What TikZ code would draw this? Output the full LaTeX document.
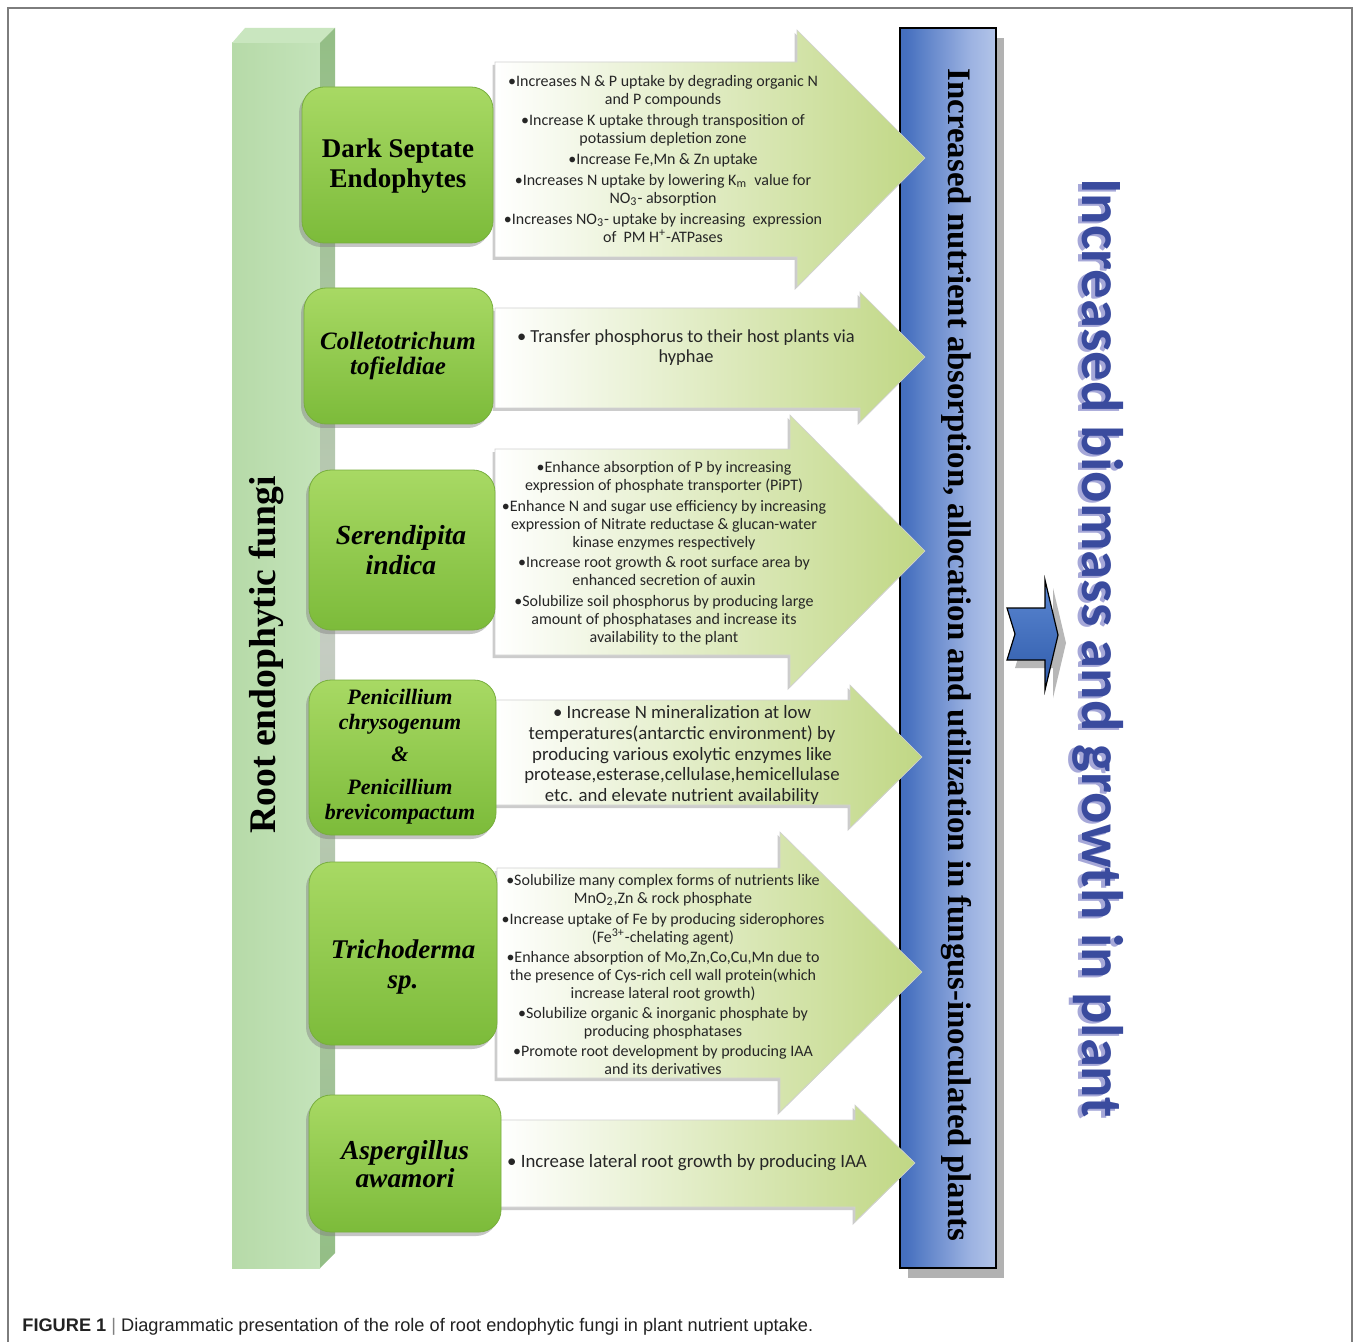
\documentclass[tikz,border=0pt]{standalone}
\usepackage{fontspec}
\setmainfont{Liberation Serif}
\newfontfamily\calib{Carlito}
\newfontfamily\capfont{Liberation Sans}
\usetikzlibrary{shadows}

\definecolor{framegray}{HTML}{7D7D7D}
\definecolor{barfrontL}{HTML}{B6DAA8}
\definecolor{barfrontR}{HTML}{C4E3BA}
\definecolor{bartop}{HTML}{C9E6BF}
\definecolor{barsideA}{HTML}{93BE85}
\definecolor{barsideB}{HTML}{C5CCC2}
\definecolor{boxtop}{HTML}{A8D964}
\definecolor{boxbot}{HTML}{7CBB3A}
\definecolor{boxrim}{HTML}{78AE3E}
\definecolor{arrowgreen}{HTML}{C0D784}
\definecolor{bluedark}{HTML}{3A63B4}
\definecolor{bluedeep}{HTML}{4670BF}
\definecolor{bluemid}{HTML}{9DB3E2}
\definecolor{bluelight}{HTML}{DDE6F4}
\definecolor{chevtop}{HTML}{5B87D2}
\definecolor{chevbot}{HTML}{2F5BAA}
\definecolor{titleblue}{HTML}{3A4B9E}
\definecolor{titleshadow}{HTML}{A6A8D8}
\definecolor{captext}{HTML}{222222}

% horizontal blue fade of the outcome bar
\pgfdeclarehorizontalshading{effectshade}{100bp}{color(0bp)=(bluedark); color(28bp)=(bluedeep); color(62bp)=(bluemid); color(100bp)=(bluelight)}

% block arrow: x0, ytop, ybottom, head base x, head top y, head bottom y, tip x, tip y
\newcommand\benefitarrow[8]{%
  \path[arrowbody] (#1,#2) -- (#4,#2) -- (#4,#5) -- (#7,#8) -- (#4,#6) -- (#4,#3) -- (#1,#3) -- cycle;}

\begin{document}
\begin{tikzpicture}[x=0.5pt,y=-0.5pt,
  fungbox/.style={rectangle, rounded corners=11pt, top color=boxtop, bottom color=boxbot,
    draw=boxrim, line width=0.4pt, inner sep=0pt,
    drop shadow={shadow xshift=-1.5pt, shadow yshift=-2pt, opacity=0.45}},
  fungname/.style={font=\bfseries\itshape, align=center, text=black, inner sep=0pt},
  arrowbody/.style={left color=white, right color=arrowgreen, draw=black!18, line width=0.3pt,
    drop shadow={shadow xshift=-1.2pt, shadow yshift=-1.5pt, opacity=0.4}},
  arrowtext/.style={font=\calib, align=center, text=black!85, inner sep=0pt},
  effectbar/.style={rectangle, minimum width=48pt, minimum height=620pt, inner sep=0pt,
    draw=black, line width=0.6pt, shade, shading=effectshade,
    drop shadow={shadow xshift=4pt, shadow yshift=-5pt, fill=black!30, opacity=1}},
  chevshape/.style={top color=chevtop, bottom color=chevbot, draw=black, line width=0.6pt,
    drop shadow={shadow xshift=4pt, shadow yshift=-4pt, fill=black!35, opacity=0.8}}
]
\useasboundingbox (0,0) rectangle (1354,1342);
\fill[white] (0,0) rectangle (1354,1342);
\draw[framegray, line width=1pt] (8,1342) -- (8,8) -- (1352,8) -- (1352,1342);

% left column: root endophytic fungi
\fill[left color=barfrontL, right color=barfrontR] (232,43) rectangle (320,1268);
\fill[bartop] (232,43) -- (245,28) -- (335,28) -- (320,43) -- cycle;
\shade[top color=barsideA, bottom color=barsideA, middle color=barsideB]
  (320,43) -- (335,28) -- (335,1253) -- (320,1268) -- cycle;
\node[rotate=90, font=\bfseries\fontsize{18.8}{20}\selectfont] (rootlabel) at (266,655) {Root endophytic fungi};

% outcome bar
\node[effectbar] (effect) at (948,648) {};
\node[rotate=-90, font=\bfseries\fontsize{16.4}{18}\selectfont] (effecttext) at (956,655)
  {Increased nutrient absorption, allocation and utilization in fungus-inoculated plants};

% benefit arrows
\benefitarrow{495}{62}{257}{797}{30}{287}{925}{158}
\benefitarrow{495}{308}{408}{860}{292}{422}{925}{357}
\benefitarrow{495}{449}{655}{790}{415}{687}{925}{551}
\benefitarrow{495}{700}{805}{850}{685}{828}{922}{757}
\benefitarrow{497}{868}{1078}{780}{832}{1112}{922}{972}
\benefitarrow{500}{1120}{1207}{855}{1105}{1222}{915}{1163}

\node[arrowtext, font=\calib\fontsize{8}{9}\selectfont] (t1) at (663,159) {%
\textbullet Increases N \& P uptake by degrading organic N\\and P compounds\\[1.5pt]
\textbullet Increase K uptake through transposition of\\potassium depletion zone\\[1.5pt]
\textbullet Increase Fe,Mn \& Zn uptake\\[1.5pt]
\textbullet Increases N uptake by lowering K\textsubscript{m}\ \ value for\\NO\textsubscript{3}- absorption\\[1.5pt]
\textbullet Increases NO\textsubscript{3}- uptake by increasing\ \ expression\\of\ \ PM H\textsuperscript{+}-ATPases};

\node[arrowtext, font=\calib\fontsize{9.2}{10}\selectfont] (t2) at (686,348) {%
\textbullet\ Transfer phosphorus to their host plants via\\hyphae};

\node[arrowtext, font=\calib\fontsize{8}{9}\selectfont] (t3) at (664,553) {%
\textbullet Enhance absorption of P by increasing\\expression of phosphate transporter (PiPT)\\[1.5pt]
\textbullet Enhance N and sugar use efficiency by increasing\\expression of Nitrate reductase \& glucan-water\\kinase enzymes respectively\\[1pt]
\textbullet Increase root growth \& root surface area by\\enhanced secretion of auxin\\[1.5pt]
\textbullet Solubilize soil phosphorus by producing large\\amount of phosphatases and increase its\\availability to the plant};

\node[arrowtext, font=\calib\fontsize{9.4}{10.3}\selectfont] (t4) at (682,755) {%
\textbullet\ Increase N mineralization at low\\temperatures(antarctic environment) by\\producing various exolytic enzymes like\\protease,esterase,cellulase,hemicellulase\\etc. and elevate nutrient availability};

\node[arrowtext, font=\calib\fontsize{8}{9}\selectfont] (t5) at (663,974) {%
\textbullet Solubilize many complex forms of nutrients like\\MnO\textsubscript{2},Zn \& rock phosphate\\[1.5pt]
\textbullet Increase uptake of Fe by producing siderophores\\(Fe\textsuperscript{3+}-chelating agent)\\[1pt]
\textbullet Enhance absorption of Mo,Zn,Co,Cu,Mn\ due to\\the presence of Cys-rich cell wall protein(which\\increase lateral root growth)\\[1pt]
\textbullet Solubilize organic \& inorganic phosphate by\\producing phosphatases\\[1pt]
\textbullet Promote root development by producing IAA\\and its derivatives};

\node[arrowtext, font=\calib\fontsize{9.4}{10}\selectfont] (t6) at (687,1163) {%
\textbullet\ Increase lateral root growth by producing IAA};

% fungal groups
\node[fungbox, minimum width=95.5pt, minimum height=78pt] (g1) at (397.5,165) {};
\node[fungbox, minimum width=94.5pt, minimum height=68pt] (g2) at (398.5,356) {};
\node[fungbox, minimum width=93pt, minimum height=80pt] (g3) at (402,550) {};
\node[fungbox, minimum width=93.5pt, minimum height=77.5pt] (g4) at (402.5,757.5) {};
\node[fungbox, minimum width=94pt, minimum height=91.5pt] (g5) at (403,953.5) {};
\node[fungbox, minimum width=96pt, minimum height=68.5pt] (g6) at (405,1163.5) {};

\node[fungname, font=\bfseries\fontsize{13.5}{15}\selectfont] (n1) at (398,166) {Dark Septate\\Endophytes};
\node[fungname, font=\bfseries\itshape\fontsize{12.5}{12.8}\selectfont] (n2) at (398,356) {Colletotrichum\\tofieldiae};
\node[fungname, font=\bfseries\itshape\fontsize{13.8}{15}\selectfont] (n3) at (401,550) {Serendipita\\indica};
\node[fungname, font=\bfseries\itshape\fontsize{11}{12.5}\selectfont] (n4) at (400,757) {Penicillium\\chrysogenum\\[3.5pt]\&\\[4pt]Penicillium\\brevicompactum};
\node[fungname, font=\bfseries\itshape\fontsize{13.5}{15.5}\selectfont] (n5) at (403,967) {Trichoderma\\sp.};
\node[fungname, font=\bfseries\itshape\fontsize{13.7}{14}\selectfont] (n6) at (405,1164) {Aspergillus\\awamori};

% outcome chevron
\path[chevshape] (1007,608) -- (1045,608) -- (1045,580) -- (1058,635) -- (1045,690)
  -- (1045,660) -- (1007,660) -- (1015,634) -- cycle;

% final outcome
\node[rotate=-90, text=titleshadow, font=\calib\bfseries\fontsize{29.3}{32}\selectfont] (resultshadow) at (1094,650) {Increased biomass and growth in plant};
\node[rotate=-90, text=titleblue, font=\calib\bfseries\fontsize{29.3}{32}\selectfont] (result) at (1098,648) {Increased biomass and growth in plant};

% caption
\node[anchor=west, inner sep=0pt, text=captext,
  font=\capfont\fontsize{9.1}{11}\selectfont] (caption) at (22,1327)
  {\textbf{FIGURE 1}\ {\color{black!50}|}\ Diagrammatic presentation of the role of root endophytic fungi in plant nutrient uptake.};
\end{tikzpicture}
\end{document}
